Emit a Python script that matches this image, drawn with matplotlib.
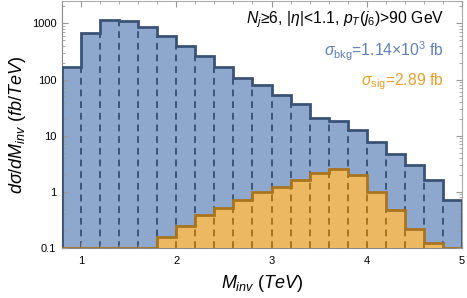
import matplotlib.pyplot as plt
import numpy as np

plt.rcParams['font.family'] = ['Liberation Sans', 'DejaVu Sans']
plt.rcParams['mathtext.fontset'] = 'custom'
plt.rcParams['mathtext.rm'] = 'Liberation Sans'
plt.rcParams['mathtext.it'] = 'Liberation Sans:italic'

# bin edges in TeV, width 0.2
edges = np.round(np.arange(0.8, 5.0001, 0.2), 2)
# background dsigma/dM (fb/TeV)
bkg = [168, 671, 1140, 1107, 855, 600, 395, 266, 170, 107, 80.5,
       52, 36.5, 21, 18, 12.5, 7.8, 4.7, 2.96, 1.65, 0.72]
# signal dsigma/dM (fb/TeV), zero below 1.8 TeV and in last bin
sig = [0, 0, 0, 0, 0, 0.155, 0.248, 0.39, 0.51, 0.73, 1.0,
       1.24, 1.63, 2.14, 2.55, 2.02, 1.01, 0.47, 0.22, 0.124, 0]

ymin = 0.1
blue_fill = '#8ea7cd'; blue_edge = '#3b5278'; blue_dash = '#3d5478'
orng_fill = '#ecb862'; orng_edge = '#a8741e'

fig, ax = plt.subplots(figsize=[4.67, 2.98], dpi=100)
fig.subplots_adjust(left=62/467, right=462/467, bottom=50/298, top=297/298)

bkg = np.array(bkg); sig = np.array(sig)
ax.stairs(bkg, edges, baseline=ymin, fill=True, color=blue_fill, zorder=1)
# dashed inner edges of background bars
for i in range(1, len(edges)-1):
    ax.vlines(edges[i], ymin, min(bkg[i-1], bkg[i]), colors=blue_dash,
              linestyles=(0, (3.5, 2.5)), lw=1.4, zorder=2)
ax.stairs(bkg, edges, baseline=ymin, fill=False, color=blue_edge, lw=2, zorder=3)

s = np.where(sig > 0, sig, ymin)
ax.stairs(s, edges, baseline=ymin, fill=True, color=orng_fill, zorder=4)
for i in range(1, len(edges)-1):
    if sig[i-1] > 0 and sig[i] > 0:
        ax.vlines(edges[i], ymin, min(sig[i-1], sig[i]), colors=orng_edge,
                  linestyles=(0, (3.5, 2.5)), lw=1.4, zorder=5)
ax.stairs(s, edges, baseline=ymin, fill=False, color=orng_edge, lw=2, zorder=6)

ax.set_yscale('log')
ax.set_xlim(0.8, 5.0)
ax.set_ylim(ymin, 2500)
ax.set_xticks([1, 2, 3, 4, 5])
ax.set_xticks(np.arange(0.8, 5.01, 0.2), minor=True)
ax.set_yticks([0.1, 1, 10, 100, 1000])
ax.set_yticklabels(['0.1', '1', '10', '100', '1000'])
ax.tick_params(which='both', direction='in', top=True, right=True,
               color='#999999', labelsize=8, pad=4)
ax.tick_params(which='major', length=4)
ax.tick_params(which='minor', length=2)
ax.tick_params(axis='x', which='major', pad=6)
for sp in ax.spines.values():
    sp.set_color('#aaaaaa'); sp.set_linewidth(0.8)
ax.spines['left'].set_color('#888888'); ax.spines['bottom'].set_color('#888888')
ax.set_axisbelow(False)

ax.set_xlabel(r'$M_{inv}$ $(TeV)$', fontsize=13, labelpad=5)
ax.set_ylabel(r'$d\sigma/dM_{inv}$ $(fb/TeV)$', fontsize=13, labelpad=3)

ax.text(0.955, 0.965, r'$N_j$≥6, |$\eta$|<1.1, $p_T(j_6)$>90 GeV',
        transform=ax.transAxes, ha='right', va='top', fontsize=11.3, zorder=10)
ax.text(0.955, 0.845, r'$\sigma_{\mathrm{bkg}}$=1.14×10$^3$ fb', color='#5d80b6',
        transform=ax.transAxes, ha='right', va='top', fontsize=11.3, zorder=10)
ax.text(0.955, 0.715, r'$\sigma_{\mathrm{sig}}$=2.89 fb', color='#e59f2a',
        transform=ax.transAxes, ha='right', va='top', fontsize=11.3, zorder=10)

fig.savefig('out.png', dpi=100)
